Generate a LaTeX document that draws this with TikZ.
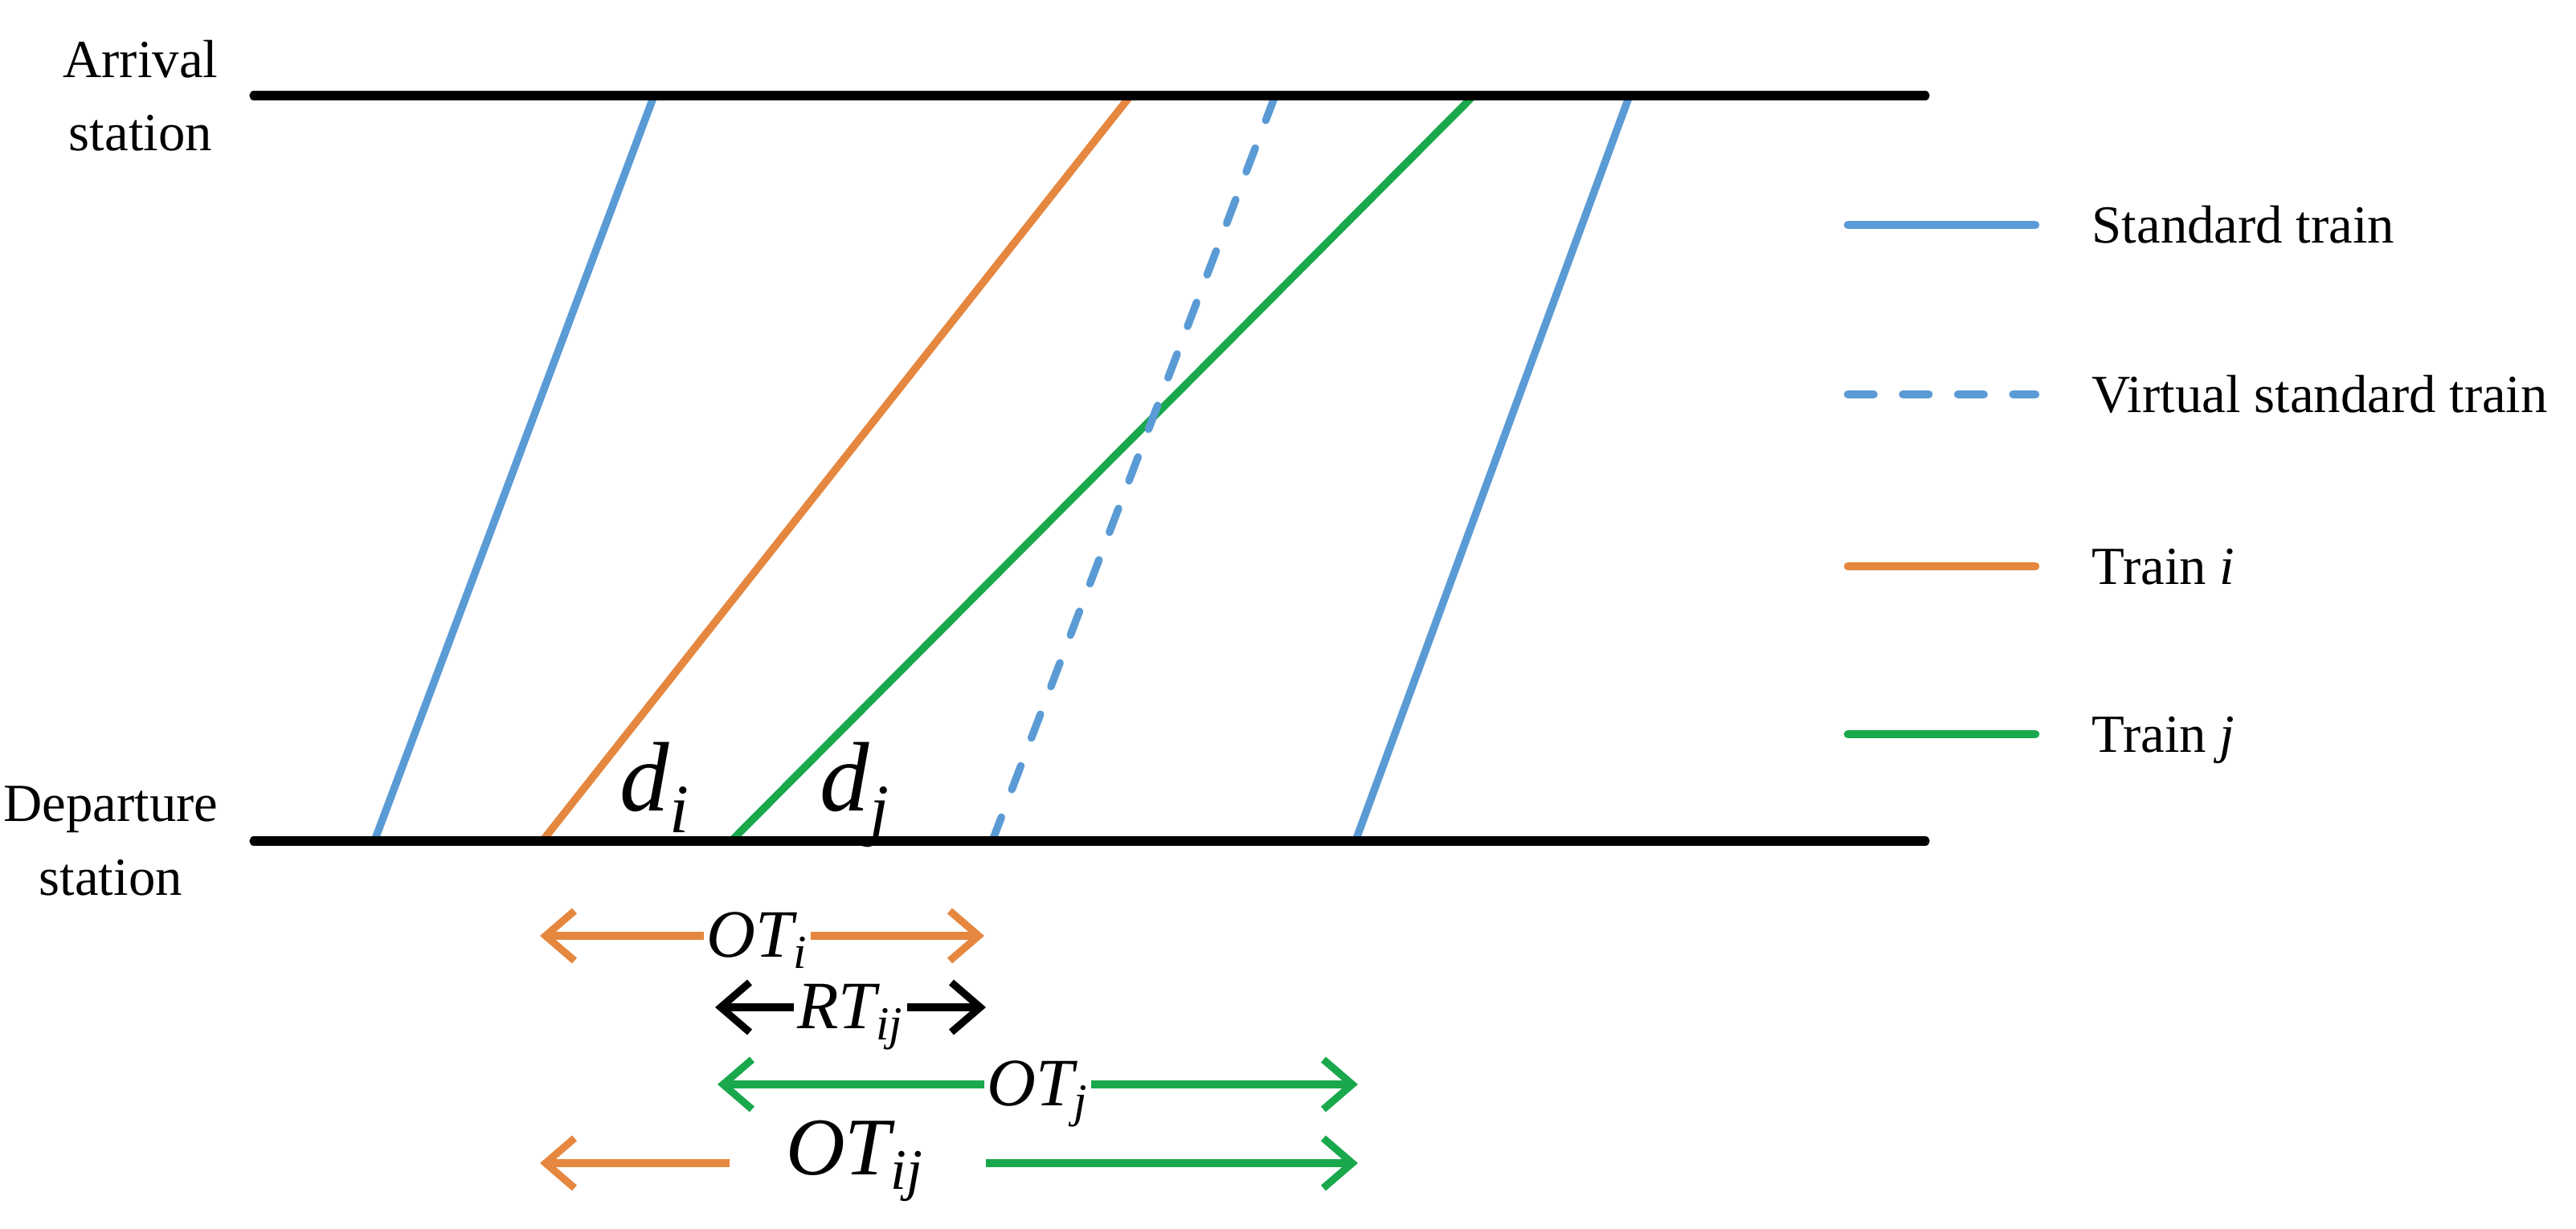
\documentclass[tikz,border=0pt]{standalone}
\usepackage{fontspec}
\setmainfont{Liberation Serif}
\usetikzlibrary{arrows.meta}
\usetikzlibrary{positioning}
\definecolor{stdblue}{HTML}{5B9BD5}
\definecolor{trorange}{HTML}{E5873F}
\definecolor{trgreen}{HTML}{1AA84C}
\tikzset{
  station/.style={align=center,font=\fontsize{19}{26}\selectfont,inner sep=0pt},
  track/.style={line width=3.2pt,line cap=round},
  std/.style={stdblue,line width=2.7pt},
  virt/.style={std,dash pattern=on 9pt off 10.5pt,line cap=round},
  tri/.style={trorange,line width=2.7pt},
  trj/.style={trgreen,line width=2.7pt},
  dlab/.style={font=\fontsize{35}{40}\selectfont\itshape,inner sep=0pt,anchor=base west},
  legtext/.style={font=\fontsize{19}{24}\selectfont,inner sep=0pt},
  span/.style={line width=2.6pt,{Straight Barb[length=3.6mm,width=6.2mm]}-{Straight Barb[length=3.6mm,width=6.2mm]}},
  halfspan/.style={line width=2.6pt,-{Straight Barb[length=3.6mm,width=6.2mm]}},
  spanlab/.style={font=\fontsize{24}{28}\selectfont\itshape,text=black,fill=white,inner sep=1pt,anchor=base,yshift=-0.27cm}
}
\begin{document}
\begin{tikzpicture}
  \useasboundingbox (0,0) rectangle (32.06,15.30);

  % train paths: departure x / arrival x
  \foreach \n/\dx/\ax/\sty in {s1/4.66/8.14/std,ti/6.75/14.07/tri,tj/9.10/18.34/trj,vs/12.35/15.87/virt,s2/16.87/20.28/std}{
    \coordinate (\n-d) at (\dx,4.83);
    \coordinate (\n-a) at (\ax,14.11);
    \draw[\sty] (\n-d) -- (\n-a);
  }

  % stations
  \coordinate (arrW) at (3.16,14.11);
  \coordinate (arrE) at (23.96,14.11);
  \coordinate (depW) at (3.16,4.83);
  \coordinate (depE) at (23.96,4.83);
  \draw[track] (arrW) -- (arrE);
  \draw[track] (depW) -- (depE);
  \node[station,left=0.44 of arrW] (arr) {Arrival\\station};
  \node[station,left=0.44 of depW] (dep) {Departure\\station};

  \node[dlab] (di) at (7.71,5.20) {d\textsubscript{i}};
  \node[dlab] (dj) at (10.20,5.20) {d\textsubscript{j}};

  % legend
  \foreach \k/\y/\sty/\txt in {1/12.50/std/Standard train,2/10.39/virt/Virtual standard train,3/8.25/tri/Train \textit{i},4/6.16/trj/Train \textit{j}}{
    \coordinate (key\k-l) at (23.00,\y);
    \coordinate (key\k-r) at (25.33,\y);
    \draw[\sty,line width=3pt,line cap=round] (key\k-l) -- (key\k-r);
    \node[legtext,right=0.70 of key\k-r,anchor=base west,yshift=-6.3pt] (leg\k) {\txt};
  }

  % occupation / reserved spans
  \coordinate (oti-l) at (6.72,3.65);
  \coordinate (oti-r) at (12.25,3.65);
  \draw[span,trorange] (oti-l) -- (oti-r) node[spanlab,pos=.49] (oti) {OT\textsubscript{i}};

  \coordinate (rt-l) at (8.90,2.76);
  \coordinate (rt-r) at (12.27,2.76);
  \draw[span] (rt-l) -- (rt-r) node[spanlab,midway] (rt) {RT\textsubscript{ij}};

  \coordinate (otj-l) at (8.93,1.80);
  \coordinate (otj-r) at (16.90,1.80);
  \draw[span,trgreen] (otj-l) -- (otj-r) node[spanlab,midway] (otj) {OT\textsubscript{j}};

  \coordinate (otij-a) at (9.08,0.82);
  \coordinate (otij-l) at (6.72,0.82);
  \coordinate (otij-b) at (12.27,0.82);
  \coordinate (otij-r) at (16.90,0.82);
  \draw[halfspan,trorange] (otij-a) -- (otij-l);
  \draw[halfspan,trgreen] (otij-b) -- (otij-r);
  \node[spanlab,fill=none,font=\fontsize{29}{34}\selectfont\itshape,yshift=0.12cm] (otij) at (10.64,0.82) {OT\textsubscript{ij}};
\end{tikzpicture}
\end{document}
